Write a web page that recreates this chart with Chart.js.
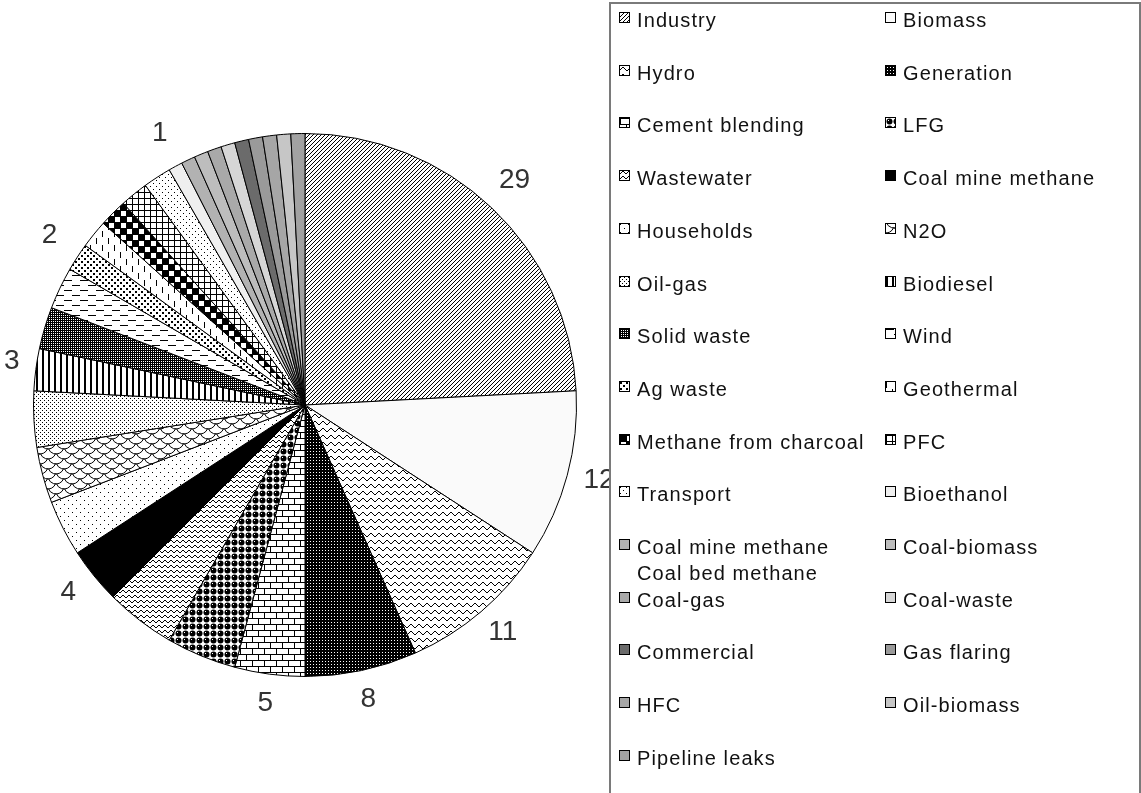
<!DOCTYPE html>
<html>
<head>
<meta charset="utf-8">
<title>Projects by type</title>
<script src="https://cdn.jsdelivr.net/npm/chart.js@4/dist/chart.umd.min.js"></script>
<style>
  body { margin: 0; background: #fff; width: 1141px; height: 793px; overflow: hidden; position: relative;
         font-family: "Liberation Sans", Arial, sans-serif; }
  #chart-area { position: absolute; left: 0; top: 0; }
  #legend { position: absolute; left: 609px; top: 2px; width: 528px; height: 830px;
            border: 2px solid #7a7a7a; border-bottom: none; }
  .item { position: absolute; font-size: 20px; letter-spacing: 1.1px; color: #111;
          white-space: pre; line-height: 26px; padding-left: 18px; }
  .item canvas { position: absolute; left: 0; top: 5px; border: 1px solid #000; }
</style>
</head>
<body>
<canvas id="chart-area" width="610" height="793"></canvas>
<div id="legend"></div>
<script>
var categories = [
  "Industry", "Biomass", "Hydro", "Generation", "Cement blending", "LFG",
  "Wastewater", "Coal mine methane", "Households", "N2O", "Oil-gas", "Biodiesel",
  "Solid waste", "Wind", "Ag waste", "Geothermal", "Methane from charcoal", "PFC",
  "Transport", "Bioethanol", "Coal mine methane\nCoal bed methane", "Coal-biomass",
  "Coal-gas", "Coal-waste", "Commercial", "Gas flaring", "HFC", "Oil-biomass",
  "Pipeline leaks"
];
var values = [29, 12, 11, 8, 5, 5, 5, 4, 4, 4, 4, 3, 3, 3, 2, 2, 2, 2, 2,
              1, 1, 1, 1, 1, 1, 1, 1, 1, 1];

// black & white fills, one per slice (pattern name or plain grey)
var fills = [
  "diag", "#fafafa", "wave", "blackdots", "brick", "balls",
  "smallwave", "#000000", "sparse", "scales", "dots", "vbars",
  "grid", "dashes", "bigdots", "vdashes", "checker", "cross",
  "sparse2", "#efefef", "#b2b2b2", "#bdbdbd",
  "#a9a9a9", "#d6d6d6", "#6b6b6b", "#9a9a9a", "#a6a6a6", "#c6c6c6",
  "#a2a2a2"
];

function tile(w, h, bg, draw) {
  var c = document.createElement('canvas');
  c.width = w; c.height = h;
  var g = c.getContext('2d');
  g.fillStyle = bg; g.fillRect(0, 0, w, h);
  g.fillStyle = '#000';
  draw(g);
  return c;
}
function px(g, pts, col) {
  if (col) g.fillStyle = col;
  for (var i = 0; i < pts.length; i++) g.fillRect(pts[i][0], pts[i][1], 1, 1);
}
function waveLine(g, ys) {
  for (var x = 0; x < ys.length; x++) g.fillRect(x, ys[x], 1, 1);
}

var tiles = {
  diag: function() { return tile(4, 4, '#fff', function(g) { px(g, [[3,0],[2,1],[1,2],[0,3]]); }); },
  wave: function() { return tile(8, 7, '#fff', function(g) { waveLine(g, [3,2,1,1,2,3,4,4]); }); },
  blackdots: function() { return tile(3, 3, '#000', function(g) { px(g, [[1,1]], '#fff'); }); },
  brick: function() { return tile(12, 12, '#fff', function(g) {
    g.fillRect(0, 0, 12, 1); g.fillRect(0, 6, 12, 1);
    g.fillRect(0, 0, 1, 6); g.fillRect(6, 6, 1, 6); }); },
  balls: function() { return tile(7, 7, '#fff', function(g) {
    g.beginPath(); g.arc(3.5, 3.5, 3, 0, Math.PI * 2); g.fill();
    px(g, [[2,2]], '#fff'); }); },
  smallwave: function() { return tile(6, 5, '#fff', function(g) { waveLine(g, [2,1,0,0,1,2]); }); },
  sparse: function() { return tile(8, 8, '#fff', function(g) { px(g, [[0,0],[4,4]]); }); },
  scales: function() { return tile(16, 10, '#fff', function(g) {
    g.strokeStyle = '#000'; g.lineWidth = 1;
    [[8, -4], [0, 1], [16, 1], [8, 6]].forEach(function(c) {
      g.beginPath(); g.arc(c[0], c[1], 8, 0.1 * Math.PI, 0.9 * Math.PI); g.stroke();
    }); }); },
  dots: function() { return tile(4, 4, '#fff', function(g) { px(g, [[0,0],[2,2]]); }); },
  vbars: function() { return tile(6, 1, '#fff', function(g) { g.fillRect(0, 0, 2, 1); }); },
  grid: function() { return tile(4, 4, '#000', function(g) { px(g, [[1,1],[3,3],[1,3],[3,1]], '#fff'); }); },
  dashes: function() { return tile(16, 10, '#fff', function(g) { g.fillRect(0, 0, 8, 1); g.fillRect(8, 5, 8, 1); }); },
  bigdots: function() { return tile(6, 6, '#fff', function(g) { g.fillRect(0, 0, 2, 2); g.fillRect(3, 3, 2, 2); }); },
  vdashes: function() { return tile(12, 14, '#fff', function(g) { g.fillRect(0, 0, 1, 6); g.fillRect(6, 7, 1, 6); }); },
  checker: function() { return tile(12, 12, '#fff', function(g) {
    g.fillRect(0, 0, 12, 1); g.fillRect(0, 6, 12, 1);
    g.fillRect(0, 0, 1, 12); g.fillRect(6, 0, 1, 12);
    g.fillRect(1, 1, 5, 5); g.fillRect(7, 7, 5, 5); }); },
  cross: function() { return tile(6, 6, '#fff', function(g) { g.fillRect(0, 0, 6, 1); g.fillRect(0, 0, 1, 6); }); },
  sparse2: function() { return tile(6, 6, '#fff', function(g) { px(g, [[0,0],[3,3]]); }); }
};

function makeFill(ctx, f) {
  if (tiles[f]) return ctx.createPattern(tiles[f](), 'repeat');
  return f;
}

// numbers outside the pie, once per distinct value
var sliceLabels = {
  id: 'sliceLabels',
  afterDatasetsDraw: function(chart) {
    var ctx = chart.ctx;
    var arcs = chart.getDatasetMeta(0).data;
    ctx.save();
    ctx.font = '28px "Liberation Sans", Arial, sans-serif';
    ctx.fillStyle = '#333';
    ctx.textAlign = 'center';
    ctx.textBaseline = 'middle';
    arcs.forEach(function(arc, i) {
      if (i > 0 && values[i] === values[i - 1]) return;
      var p = arc.getProps(['x', 'y', 'startAngle', 'endAngle', 'outerRadius'], true);
      var mid = (p.startAngle + p.endAngle) / 2;
      var r = p.outerRadius + 33;
      var txt = String(values[i]);
      var half = ctx.measureText(txt).width / 2;
      var x = Math.max(p.x + Math.cos(mid) * r, half + 4);
      ctx.fillText(txt, x, p.y + Math.sin(mid) * r - 4);
    });
    ctx.restore();
  }
};

window.onload = function() {
  var canvas = document.getElementById("chart-area");
  var ctx = canvas.getContext("2d");

  var config = {
    type: 'pie',
    data: {
      labels: categories,
      datasets: [{
        data: values,
        backgroundColor: fills.map(function(f) { return makeFill(ctx, f); }),
        borderColor: '#000',
        borderWidth: 1,
        hoverOffset: 0
      }]
    },
    options: {
      responsive: false,
      animation: false,
      events: [],
      layout: { padding: { left: 33, right: 33, top: 133, bottom: 116 } },
      plugins: {
        legend: { display: false },
        tooltip: { enabled: false }
      }
    },
    plugins: [sliceLabels]
  };
  window.myPie = new Chart(ctx, config);

  // two-column legend, filled row by row
  var legend = document.getElementById("legend");
  categories.forEach(function(name, i) {
    var row = Math.floor(i / 2), col = i % 2;
    var item = document.createElement('div');
    item.className = 'item';
    item.style.left = (col === 0 ? 8 : 274) + 'px';
    item.style.top = (20 + 52.7 * row - 13 - 4) + 'px';
    var box = document.createElement('canvas');
    box.width = 9; box.height = 9;
    var bctx = box.getContext('2d');
    bctx.fillStyle = makeFill(bctx, fills[i]);
    bctx.fillRect(0, 0, 9, 9);
    item.appendChild(box);
    item.appendChild(document.createTextNode(name));
    legend.appendChild(item);
  });
};
</script>
</body>
</html>
